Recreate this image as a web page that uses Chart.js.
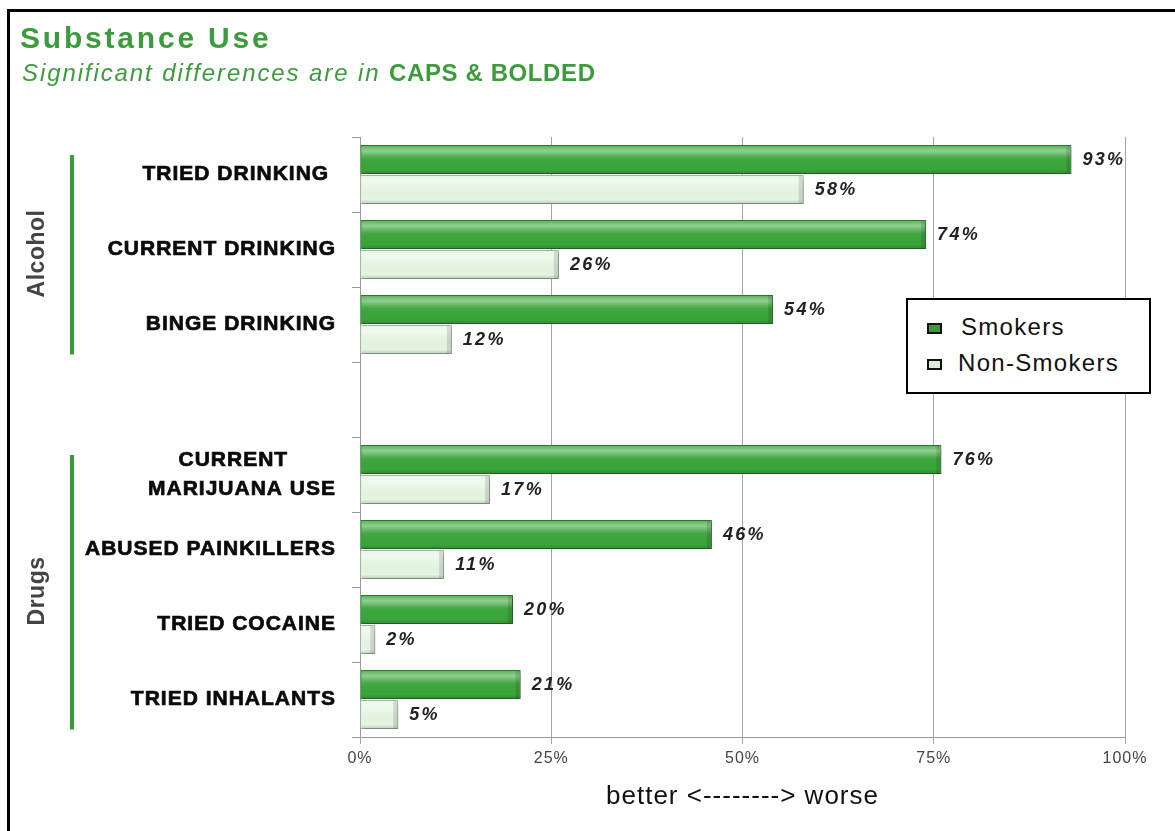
<!DOCTYPE html>
<html>
<head>
<meta charset="utf-8">
<script src="https://cdn.jsdelivr.net/npm/chart.js@4.4.0/dist/chart.umd.min.js"></script>
<style>
  body { margin: 0; background: #fff; font-family: "Liberation Sans", Arial, sans-serif; }
  .frame { position: absolute; left: 7px; top: 9px; width: 1175px; height: 840px; border: 3px solid #000; box-sizing: border-box; }
  .title { position: absolute; left: 20px; top: 21px; font-size: 30px; font-weight: bold; color: #3c9c3c; letter-spacing: 2.8px; }
  .subtitle { position: absolute; left: 22px; top: 59px; font-size: 24px; font-style: italic; color: #3c9c3c; letter-spacing: 1.9px; }
  .subtitle b { font-style: normal; letter-spacing: 0.6px; }
  #wrap { position: absolute; left: 0; top: 0; width: 1175px; height: 831px; }
  .legend { position: absolute; left: 906px; top: 298px; width: 245px; height: 96px; border: 2px solid #000; box-sizing: border-box; background: #fff; z-index: 2; }
  .legend div { position: absolute; font-size: 24px; color: #111; letter-spacing: 1.3px; }
  .legend span { position: absolute; width: 11px; height: 7px; border: 2px solid #111; }
</style>
</head>
<body>
<div class="frame"></div>
<div id="wrap"><canvas id="chart"></canvas></div>
<div class="title">Substance Use</div>
<div class="subtitle">Significant differences are in <b>CAPS &amp; BOLDED</b></div>
<div class="legend" id="legend"></div>
<script>
// Substance use: smokers vs non-smokers

const categories = [
    'TRIED DRINKING ',
    'CURRENT DRINKING',
    'BINGE DRINKING',
    '',
    ['CURRENT       ', 'MARIJUANA USE'],
    'ABUSED PAINKILLERS',
    'TRIED COCAINE',
    'TRIED INHALANTS'
];
const seriesNames = ['Smokers', 'Non-Smokers'];
const smokers = [93, 74, 54, null, 76, 46, 20, 21];
const nonSmokers = [58, 26, 12, null, 17, 11, 2, 5];
const xTicks = [0, 25, 50, 75, 100];
const groups = [
    { label: 'Alcohol', from: 0, to: 2 },
    { label: 'Drugs', from: 4, to: 7 }
];

const green = '#3c9c3c';
const barColors = ['#3aa53a', '#e4f5e1'];
const barBorders = ['#2d7f2d', '#a9b9a9'];

// global letter spacing for canvas text
const spacingPlugin = {
    id: 'spacing',
    beforeLayout(chart) { chart.ctx.letterSpacing = '1px'; },
    beforeDraw(chart) { chart.ctx.letterSpacing = '1px'; }
};

// drop shadow + bevel on bars
const bevelPlugin = {
    id: 'bevel',
    beforeDatasetsDraw(chart) {
        const ctx = chart.ctx;
        ctx.save();
        ctx.shadowColor = 'rgba(0,0,0,0.35)';
        ctx.shadowBlur = 4;
        ctx.shadowOffsetX = 2;
        ctx.shadowOffsetY = 2;
    },
    afterDatasetsDraw(chart) {
        const ctx = chart.ctx;
        ctx.restore();
        chart.data.datasets.forEach(function(ds, di) {
            chart.getDatasetMeta(di).data.forEach(function(bar, i) {
                if (ds.data[i] == null) return;
                const p = bar.getProps(['x', 'y', 'base', 'height'], true);
                const top = p.y - p.height / 2;
                const g = ctx.createLinearGradient(0, top, 0, top + p.height);
                g.addColorStop(0, 'rgba(255,255,255,0.15)');
                g.addColorStop(0.2, 'rgba(255,255,255,0.45)');
                g.addColorStop(0.45, 'rgba(255,255,255,0.05)');
                g.addColorStop(0.85, 'rgba(0,0,0,0.0)');
                g.addColorStop(1, 'rgba(0,0,0,0.18)');
                ctx.fillStyle = g;
                ctx.fillRect(p.base + 1, top + 1, p.x - p.base - 2, p.height - 2);
                // end cap shading
                ctx.fillStyle = 'rgba(0,0,0,0.12)';
                ctx.fillRect(p.x - 5, top + 1, 4, p.height - 2);
            });
        });
    }
};

// percentage labels to the right of bars
const valueLabels = {
    id: 'valueLabels',
    afterDatasetsDraw(chart) {
        const ctx = chart.ctx;
        ctx.save();
        ctx.font = 'italic bold 18px "Liberation Sans", Arial, sans-serif';
        ctx.letterSpacing = '2.3px';
        ctx.fillStyle = '#222';
        ctx.textBaseline = 'middle';
        ctx.textAlign = 'left';
        chart.data.datasets.forEach(function(ds, di) {
            chart.getDatasetMeta(di).data.forEach(function(bar, i) {
                const v = ds.data[i];
                if (v == null) return;
                ctx.fillText(v + '%', bar.x + 11, bar.y + 1);
            });
        });
        ctx.restore();
    }
};

// group labels (Alcohol / Drugs) with green bars
const groupPlugin = {
    id: 'groups',
    afterDraw(chart) {
        const ctx = chart.ctx;
        const y = chart.scales.y;
        const band = y.getPixelForValue(1) - y.getPixelForValue(0);
        ctx.save();
        groups.forEach(function(gr) {
            const y0 = y.getPixelForValue(gr.from) - band * 0.26;
            const y1 = Math.min(y.getPixelForValue(gr.to) + band * 0.4, chart.chartArea.bottom);
            ctx.fillStyle = green;
            ctx.fillRect(70, y0, 4, y1 - y0);
            const mid = (y.getPixelForValue(gr.from) + y.getPixelForValue(gr.to)) / 2 + 4;
            ctx.translate(38, mid);
            ctx.rotate(-Math.PI / 2);
            ctx.font = 'bold 23px "Liberation Sans", Arial, sans-serif';
            ctx.letterSpacing = '0.5px';
            ctx.fillStyle = '#444';
            ctx.textAlign = 'center';
            ctx.textBaseline = 'middle';
            ctx.fillText(gr.label, 0, 0);
            ctx.setTransform(1, 0, 0, 1, 0, 0);
        });
        ctx.restore();
    }
};

const ctx = document.getElementById('chart').getContext('2d');
const chart = new Chart(ctx, {
    type: 'bar',
    data: {
        labels: categories,
        datasets: [{
            label: seriesNames[0],
            data: smokers,
            backgroundColor: barColors[0],
            borderColor: barBorders[0],
            borderWidth: 1
        }, {
            label: seriesNames[1],
            data: nonSmokers,
            backgroundColor: barColors[1],
            borderColor: barBorders[1],
            borderWidth: 1
        }]
    },
    options: {
        indexAxis: 'y',
        responsive: true,
        maintainAspectRatio: false,
        animation: false,
        categoryPercentage: 0.8,
        barPercentage: 0.96,
        layout: { padding: { top: 137, right: 50, left: 0, bottom: 0 } },
        plugins: {
            legend: { display: false },
            tooltip: { enabled: false }
        },
        scales: {
            x: {
                min: 0,
                max: 100,
                afterFit(scale) { scale.height = 94; },
                afterBuildTicks(scale) { scale.ticks = xTicks.map(function(v) { return { value: v }; }); },
                ticks: {
                    callback: function(v) { return v + '%'; },
                    color: '#444',
                    font: { size: 16, family: '"Liberation Sans", Arial, sans-serif' },
                    padding: 5
                },
                grid: { color: '#a6a6a6', tickLength: 7, lineWidth: 1 },
                border: { color: '#999', width: 1 },
                title: {
                    display: true,
                    text: 'better <--------> worse',
                    color: '#111',
                    font: { size: 26, family: '"Liberation Sans", Arial, sans-serif' },
                    padding: { top: 0, bottom: 19 }
                }
            },
            y: {
                afterFit(scale) { scale.width = 360; },
                grid: { display: true, drawOnChartArea: false, offset: true, tickLength: 8, color: '#999' },
                border: { color: '#999', width: 1 },
                ticks: {
                    color: '#0a0a0a',
                    padding: 16,
                    textStrokeColor: '#0a0a0a',
                    textStrokeWidth: 0.7,
                    font: { size: 21, weight: 'bold', lineHeight: 1.4, family: '"Liberation Sans", Arial, sans-serif' }
                }
            }
        }
    },
    plugins: [spacingPlugin, bevelPlugin, valueLabels, groupPlugin]
});

// legend box
const legend = document.getElementById('legend');
const swatch = ['#3c9a3c', '#d8ecd6'];
seriesNames.forEach(function(name, i) {
    const s = document.createElement('span');
    s.style.left = '19px';
    s.style.top = (23 + i * 36) + 'px';
    s.style.background = swatch[i];
    legend.appendChild(s);
    const t = document.createElement('div');
    t.textContent = name;
    t.style.left = (i === 0 ? 53 : 50) + 'px';
    t.style.top = (13 + i * 36) + 'px';
    legend.appendChild(t);
});
</script>
</body>
</html>
